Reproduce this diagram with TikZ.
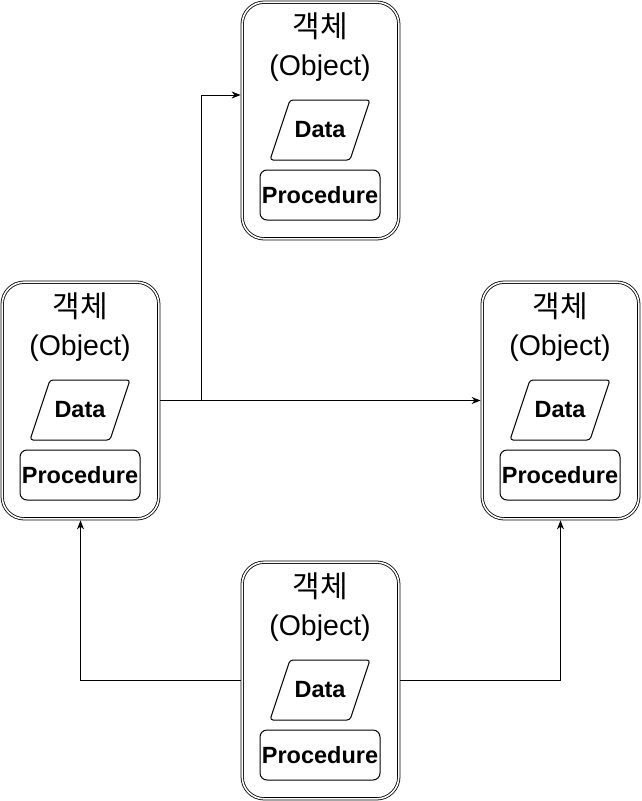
\documentclass[tikz,border=0pt]{standalone}
\usepackage{fontspec}
\setmainfont{Liberation Sans}
\newfontfamily\kfont{Noto Sans CJK KR}
\usetikzlibrary{arrows.meta}
\tikzset{
  objbox/.style={draw, line width=0.8pt, double, double distance=1.6pt,
    rounded corners=22pt, minimum width=156.6pt, minimum height=236.6pt,
    inner sep=0pt, outer sep=1.6pt},
  dataline/.style={draw, line width=1pt, rounded corners=3pt, line join=round},
  datatext/.style={inner sep=0pt, font=\bfseries\fontsize{23.5}{26}\selectfont},
  procbox/.style={draw, line width=1pt, rounded corners=7pt, minimum width=120pt,
    minimum height=50pt, inner sep=0pt, font=\bfseries\fontsize{23.5}{26}\selectfont},
  ktext/.style={anchor=base, inner sep=0pt, font=\kfont\fontsize{30}{32}\selectfont},
  etext/.style={anchor=base, inner sep=0pt, font=\fontsize{28.5}{30}\selectfont},
  conn/.style={draw, line width=1pt, -{Stealth[length=9pt,width=7pt]}}
}
\newcommand\objectbox[3]{%
  \node[objbox] (#1) at (#2+80.5,#3+120.5) {};
  \node[ktext] (#1-k) at (#2+80,#3+37) {객체};
  \node[etext] (#1-o) at (#2+80,#3+75) {(Object)};
  \draw[dataline] (#2+50,#3+100) -- (#2+130,#3+100) -- (#2+110,#3+160)
    -- (#2+30,#3+160) -- cycle;
  \node[datatext] (#1-d) at (#2+80,#3+130) {Data};
  \node[procbox] (#1-p) at (#2+80,#3+195) {Procedure};
}
\begin{document}
\begin{tikzpicture}[x=1pt,y=-1pt]
  \useasboundingbox (0,0) rectangle (641,801);
  \objectbox{top}{240}{0}
  \objectbox{left}{0}{280}
  \objectbox{right}{480}{280}
  \objectbox{bottom}{240}{560}
  \coordinate (j) at (201,400.5);
  \draw[conn] (left.east) -- (right.west);
  \draw[conn] (j) |- ([yshift=25.5pt]top.west);
  \draw[conn] (bottom.west) -| (left.south);
  \draw[conn] (bottom.east) -| (right.south);
\end{tikzpicture}
\end{document}
